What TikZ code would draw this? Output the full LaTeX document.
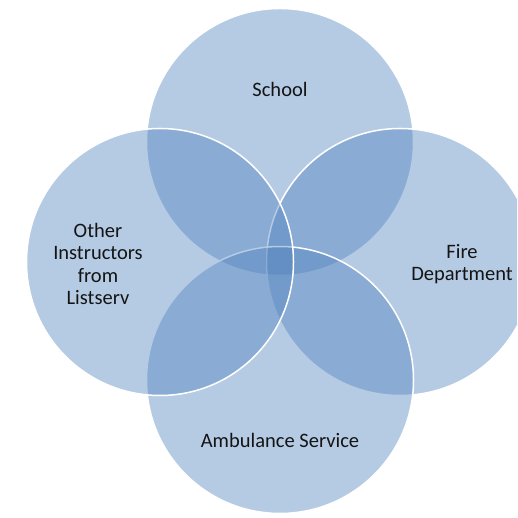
\documentclass[tikz,border=0pt]{standalone}
\usepackage{fontspec}
\setmainfont{Carlito}
\usepackage{tikz}
\usetikzlibrary{shapes,positioning,calc}

\definecolor{vennblue}{HTML}{4F81BD}
\definecolor{venntext}{HTML}{141414}

\tikzset{
    venn/.style={circle, minimum size=267pt, inner sep=0pt, draw=white, line width=1.5pt, fill=vennblue, fill opacity=0.42},
    lbl/.style={align=center, text=venntext, font=\fontsize{20.5}{22.5}\selectfont}
}

\begin{document}
\begin{tikzpicture}[x=1pt, y=1pt, node distance=120pt]
    \clip (0,0) rectangle (517,518);

    % circles, back to front
    \node (school) [venn] at (280,376) {};
    \node (fire) [venn, below of=school, xshift=120pt] {};
    \node (ambulance) [venn, below of=school, yshift=-118pt] {};
    \node (others) [venn, below of=school, xshift=-120pt] {};

    % labels
    \node (schooltxt) [lbl, above of=school, yshift=-67pt] {School};
    \node (firetxt) [lbl, right of=fire, xshift=-58pt, yshift=-2pt] {Fire\\Department};
    \node (ambulancetxt) [lbl, below of=ambulance, yshift=60pt] {Ambulance Service};
    \node (otherstxt) [lbl, left of=others, xshift=58pt, yshift=-2pt] {Other\\Instructors\\from\\Listserv};
\end{tikzpicture}
\end{document}
